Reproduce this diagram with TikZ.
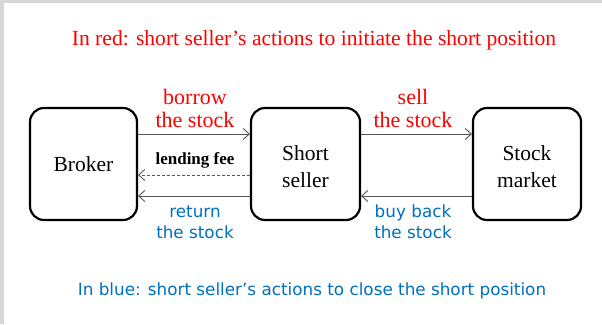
\documentclass[tikz,border=0pt]{standalone}
\usepackage{fontspec}
\setmainfont{Liberation Serif}
\newfontfamily\handfont{DejaVu Sans}
\usetikzlibrary{arrows.meta}
\definecolor{redtxt}{HTML}{FF0000}
\definecolor{bluetxt}{HTML}{0070C0}
\definecolor{arrowgray}{HTML}{555555}
\definecolor{edgegray}{HTML}{D6D6D6}
\tikzset{
  party/.style={draw=black, line width=2.2pt, rounded corners=14pt, fill=white,
    minimum height=112pt, inner sep=0pt},
  partytext/.style={align=center, font=\fontsize{21.5}{27}\selectfont, inner sep=0pt},
  flow/.style={draw=arrowgray, line width=0.9pt, -{Straight Barb[length=6pt,width=11pt,line width=0.9pt]}},
  feeflow/.style={flow, dash pattern=on 3pt off 2pt},
  redlabel/.style={text=redtxt, align=center, font=\fontsize{22}{23}\selectfont, inner sep=0pt},
  bluelabel/.style={text=bluetxt, align=center, font=\handfont\fontsize{16.8}{21}\selectfont, inner sep=0pt},
}
\begin{document}
\begin{tikzpicture}[x=1pt, y=-1pt]
  % page frame with its grey edge strips
  \fill[edgegray] (0,0) rectangle (602,324);
  \fill[white] (4,3) rectangle (602,324);
  \useasboundingbox (0,0) rectangle (602,324);

  % headings
  \node[redlabel, font=\fontsize{21.6}{22}\selectfont] (title) at (314,40) {In red: short seller’s actions to initiate the short position};
  \node[bluelabel] (footer) at (312,291) {In blue: short seller’s actions to close the short position};

  % the three parties
  \node[party, minimum width=107pt] (broker) at (83.5,164) {};
  \node[party, minimum width=109pt] (seller) at (305.5,164) {};
  \node[party, minimum width=108pt] (market) at (527,164) {};
  \node[partytext] (brokertext) at (broker.center) {Broker};
  \node[partytext] (sellertext) at ([yshift=-3pt]seller.center) {Short\\seller};
  \node[partytext] (markettext) at ([yshift=-3pt]market.center) {Stock\\market};

  % opening the position
  \draw[flow] (broker.east |- 0,134) -- (seller.west |- 0,134);
  \draw[flow] (seller.east |- 0,134) -- (market.west |- 0,134);
  \node[redlabel] (borrow) at (195,108) {borrow\\the stock};
  \node[redlabel] (sell) at (413,108) {sell\\the stock};

  % lending fee paid to the broker
  \draw[feeflow] (seller.west |- 0,175) -- (broker.east |- 0,175);
  \node[font=\bfseries\fontsize{17}{20}\selectfont, inner sep=0pt] (fee) at (195,160) {lending fee};

  % closing the position
  \draw[flow] (seller.west |- 0,196) -- (broker.east |- 0,196);
  \draw[flow] (market.west |- 0,196) -- (seller.east |- 0,196);
  \node[bluelabel] (return) at (195,222) {return\\the stock};
  \node[bluelabel] (buyback) at (413,222) {buy back\\the stock};
\end{tikzpicture}
\end{document}
